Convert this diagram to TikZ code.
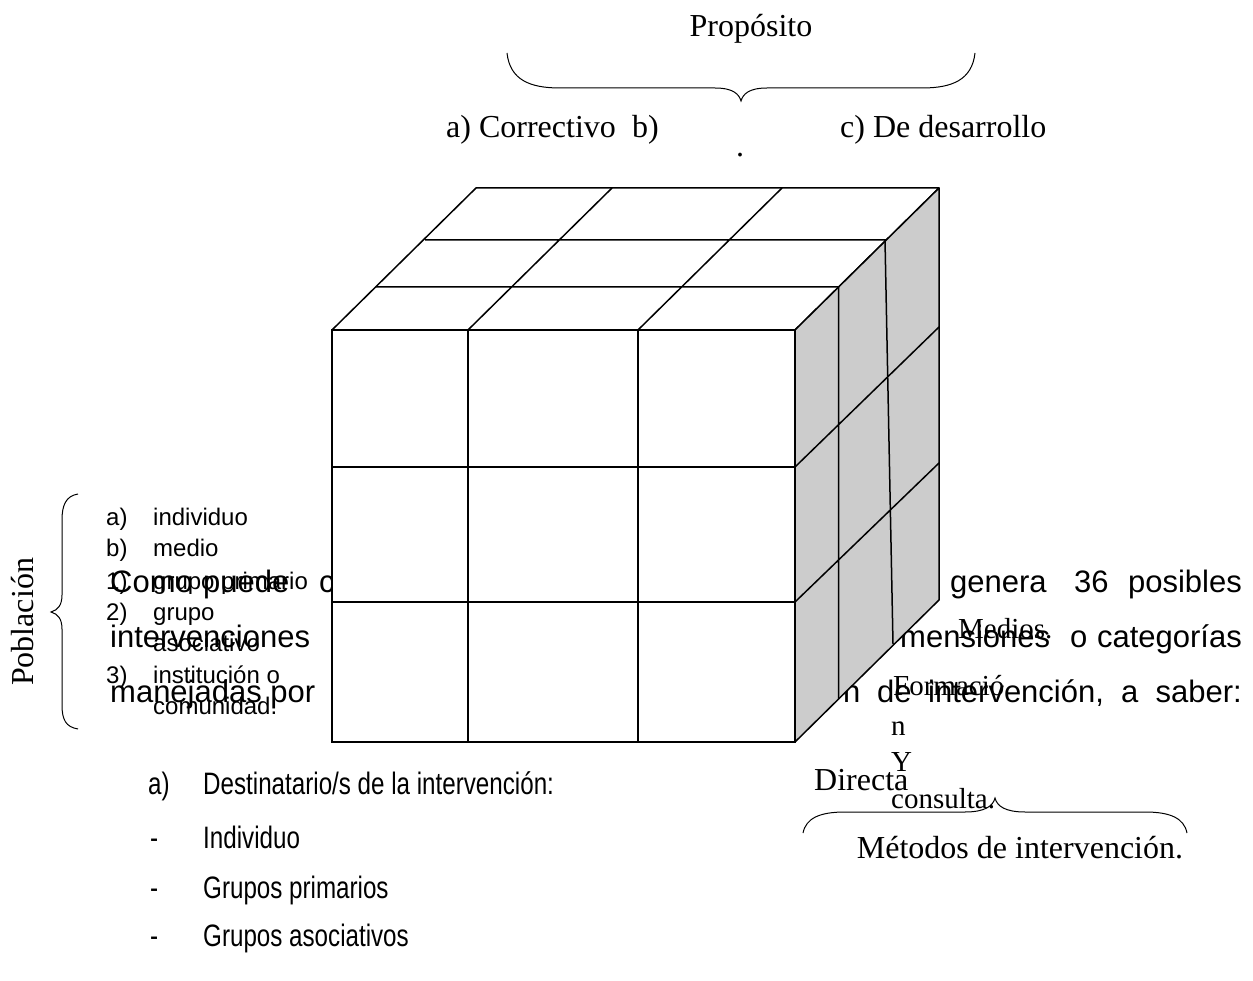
\documentclass[tikz,border=0pt]{standalone}
\usepackage{fontspec}
\setmainfont{Liberation Serif}
\newfontfamily\arial{Liberation Sans}
\newfontfamily\arialn{Liberation Sans}[FakeStretch=0.78]
\begin{document}
\begin{tikzpicture}[x=1pt,y=-1pt,
  serif/.style={font=\fontsize{32}{36}\selectfont,inner sep=0pt,anchor=base west},
  col/.style={font=\fontsize{29}{33}\selectfont,inner sep=0pt,anchor=base west},
  body/.style={font=\arial\fontsize{31}{36}\selectfont,inner sep=0pt,anchor=base west},
  bodye/.style={body,anchor=base east},
  small/.style={font=\arial\fontsize{24}{28}\selectfont,inner sep=0pt,anchor=base west},
  narrow/.style={font=\arialn\fontsize{31}{36}\selectfont,inner sep=0pt,anchor=base west},
  cubeline/.style={line width=1.5pt,line join=round},
  bracel/.style={line width=1pt}]
\useasboundingbox (0,0) rectangle (1253,981);

% ---- top labels
\node[serif,anchor=base] (prop) at (751,37) {Propósito};
\draw[bracel] (507,53) .. controls (510,80) and (530,88) .. (560,88) -- (715,88)
  .. controls (733,88) and (739,94) .. (741,101)
  .. controls (743,94) and (749,88) .. (767,88) -- (922,88)
  .. controls (952,88) and (972,80) .. (975,53);
\node[serif] (pa) at (446,138) {a) Correctivo};
\node[serif] (pb) at (632,138) {b)};
\node[serif] (pdot) at (736,157) {.};
\node[serif] (pc) at (840,138) {c) De desarrollo};

% ---- left label
\node[serif,rotate=90,anchor=base] (pob) at (33,622) {Población};
\draw[bracel] (78,494) .. controls (66,496) and (62,505) .. (62,520) -- (62,595)
  .. controls (62,605) and (58,610) .. (51,612)
  .. controls (58,614) and (62,619) .. (62,629) -- (62,705)
  .. controls (62,720) and (66,727) .. (78,729);

% ---- small list
\node[small] (la) at (106,525) {a)};  \node[small] (lat) at (153,525) {individuo};
\node[small] (lb) at (106,556) {b)};  \node[small] (lbt) at (153,556) {medio};
\node[small] (l1) at (106,589) {1)};  \node[small] (l1t) at (153,589) {grupo primario};
\node[small] (l2) at (106,620) {2)};  \node[small] (l2t) at (153,620) {grupo};
\node[small] (l2u) at (153,651) {asociativo};
\node[small] (l3) at (106,683) {3)};  \node[small] (l3t) at (153,683) {institución o};
\node[small] (l3u) at (153,714) {comunidad.};

% ---- paragraph
\node[body] (p1a) at (110,592) {Como};
\node[body] (p1b) at (203,592) {puede};
\node[body] (p1c) at (319,592) {c};
\node[body] (p1d) at (950,592) {genera};
\node[body] (p1e) at (1074,592) {36};
\node[bodye] (p1f) at (1242,592) {posibles};
\node[body] (p2a) at (110,647) {intervenciones};
\node[body] (p2b) at (900,647) {mensiones};
\node[body] (p2c) at (1070,647) {o};
\node[bodye] (p2d) at (1242,647) {categorías};
\node[body] (p3a) at (110,702) {manejadas por};
\node[body] (p3b) at (843,702) {n};
\node[body] (p3c) at (877,702) {de};
\node[body] (p3d) at (928,702) {intervención,};
\node[body] (p3e) at (1121,702) {a};
\node[bodye] (p3f) at (1242,702) {saber:};

% ---- methods column
\node[col] (m1) at (958,638) {Medios.};
\node[col] (m2) at (893,695) {Formació};
\node[col] (m3) at (891,735) {n};
\node[col] (m4) at (891,771) {Y};
\node[col] (m5) at (891,808) {consulta.};
\node[serif] (dir) at (814,790) {Directa};
\draw[bracel] (803,833) .. controls (806,818) and (820,812) .. (845,812) -- (965,812)
  .. controls (985,812) and (993,806) .. (995,798)
  .. controls (997,806) and (1005,812) .. (1025,812) -- (1145,812)
  .. controls (1170,812) and (1184,818) .. (1187,833);
\node[serif,anchor=base] (met) at (1020,858) {Métodos de intervención.};

% ---- bottom list
\node[narrow] (da) at (148,794) {a)};  \node[narrow] (dat) at (203,794) {Destinatario/s de la intervención:};
\node[narrow] (d1) at (150,848) {-};   \node[narrow] (d1t) at (203,848) {Individuo};
\node[narrow] (d2) at (150,898) {-};   \node[narrow] (d2t) at (203,898) {Grupos primarios};
\node[narrow] (d3) at (150,946) {-};   \node[narrow] (d3t) at (203,946) {Grupos asociativos};

% ---- cube
\coordinate (A) at (332,330); \coordinate (B) at (795,330);
\coordinate (C) at (795,742); \coordinate (D) at (332,742);
\coordinate (E) at (476,188); \coordinate (F) at (939,188);
\coordinate (G) at (939,600);
\fill[black!50,shift={(2,5)}] (A) -- (B) -- (F) -- (G) -- (C) -- (D) -- cycle;
\filldraw[cubeline,fill=white] (A) -- (B) -- (F) -- (E) -- cycle;
\filldraw[cubeline,fill=black!20] (B) -- (F) -- (G) -- (C) -- cycle;
\filldraw[cubeline,fill=white] (A) rectangle (C);
% front grid
\draw[cubeline] (468,330) -- (468,742) (638,330) -- (638,742)
  (332,467) -- (795,467) (332,602) -- (795,602);
% top grid
\draw[cubeline] (468,330) -- (612,188) (638,330) -- (782,188)
  (375.5,287) -- (838.5,287) (425,240) -- (886,240);
% right grid
\draw[cubeline] (838.5,287) -- (838.5,699) (885,240) -- (893,644)
  (795,467) -- (939,327) (795,602) -- (939,463);
\draw[line width=2pt] (A) rectangle (C);
\end{tikzpicture}
\end{document}
